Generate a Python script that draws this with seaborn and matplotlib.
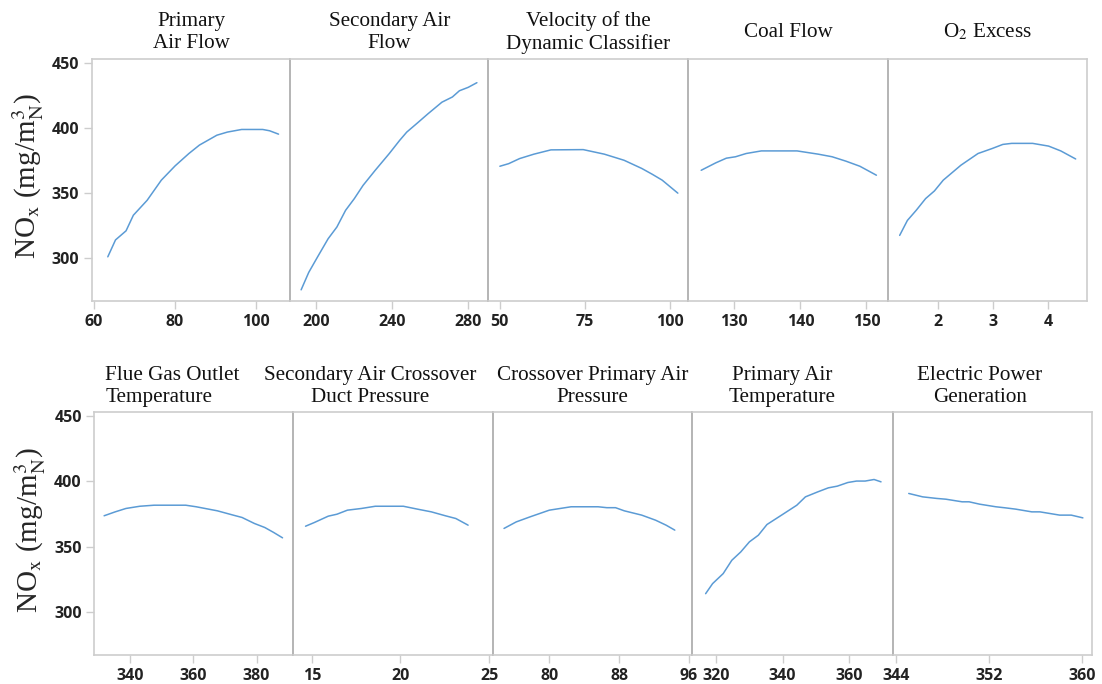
import numpy as np
import pandas as pd
import matplotlib.pyplot as plt
import seaborn as sns

# response curves of NOx vs each input
paf_x = [63.4, 65.3, 67.9, 69.7, 73.1, 76.6, 80.0, 83.4, 86.0, 90.3, 92.9, 96.4, 101.6, 103.3, 105.5]
paf_y = [301, 314, 321, 333, 344.5, 360, 371, 380.5, 387, 394.6, 397, 399, 399, 398, 395.4]

saf_x = [192.3, 196.3, 200.9, 206.5, 211.1, 215.7, 220.3, 224.9, 231.3, 238.7, 244.2, 247.9, 253.5, 259.0, 266.4, 271.9, 275.6, 280.2, 284.8]
saf_y = [275.6, 289, 300.8, 314.9, 323.9, 336.8, 345.8, 356, 367.6, 380.5, 390.7, 397, 404, 411, 420, 424, 428.8, 431.4, 435]

vdc_x = [50.0, 52.6, 55.8, 60.0, 65.0, 74.5, 80.7, 86.5, 91.7, 94.8, 97.7, 102.3]
vdc_y = [370.7, 372.7, 376.6, 380, 383.3, 383.5, 380, 375.3, 369, 364.5, 360, 350]

coal_x = [125.0, 127.2, 128.8, 130.2, 131.8, 134.1, 139.5, 142.7, 144.8, 146.9, 149.0, 151.5]
coal_y = [367.6, 373.3, 376.9, 378, 380.5, 382.5, 382.5, 380, 378, 374.6, 370.7, 363.8]

o2_x = [1.31, 1.45, 1.61, 1.78, 1.94, 2.10, 2.42, 2.73, 2.99, 3.18, 3.34, 3.72, 4.01, 4.23, 4.50]
o2_y = [317.5, 329, 336.8, 345.8, 351.7, 360, 371.5, 380.5, 384.4, 387.5, 388.3, 388.3, 386.2, 382.5, 376.3]

fgt_x = [331.8, 335.3, 338.7, 343.1, 347.6, 357.6, 360.9, 367.6, 372.6, 375.4, 379.3, 382.6, 385.4, 388.2]
fgt_y = [373.7, 376.7, 379.3, 381, 381.8, 381.8, 380.6, 377.5, 374.2, 372.4, 367.8, 364.7, 360.9, 356.8]

sadp_x = [14.65, 15.14, 15.93, 16.42, 17.01, 17.80, 18.58, 20.16, 20.95, 21.74, 22.53, 23.12, 23.81]
sadp_y = [365.7, 368.5, 373.4, 374.9, 378, 379.3, 381, 381, 378.8, 376.7, 373.7, 371.6, 366.5]

cpap_x = [74.8, 76.2, 77.8, 80.0, 82.5, 85.6, 86.6, 87.6, 88.6, 90.6, 92.2, 93.4, 94.4]
cpap_y = [364, 369, 372.9, 378, 380.6, 380.6, 379.9, 379.9, 377.5, 374.2, 370.3, 366.5, 362.7]

pat_x = [316.8, 318.9, 322.1, 324.7, 327.4, 330.0, 332.7, 335.3, 340.0, 344.3, 346.9, 350.6, 353.8, 356.5, 359.7, 362.3, 364.9, 367.6, 369.7]
pat_y = [314, 321.7, 329.4, 339.6, 346, 353.7, 358.8, 367, 374.7, 381.8, 388.2, 392, 395.1, 396.4, 399.2, 400.3, 400.3, 401.5, 399.7]

epg_x = [345.1, 346.3, 347.5, 348.3, 349.7, 350.3, 351.2, 352.6, 353.4, 354.3, 355.7, 356.4, 358.1, 359.1, 360.1]
epg_y = [390.8, 388.2, 387, 386.4, 384.4, 384.4, 382.6, 380.6, 379.8, 378.8, 376.7, 376.7, 374.2, 374.2, 372.1]

titles_top = ['Primary\nAir Flow', 'Secondary Air\nFlow', 'Velocity of the\nDynamic Classifier',
              'Coal Flow', r'O$_2$ Excess']
titles_bot = ['Flue Gas Outlet\nTemperature', 'Secondary Air Crossover\nDuct Pressure',
              'Crossover Primary Air\nPressure', 'Primary Air\nTemperature', 'Electric Power\nGeneration']

ticks_top = [[60, 80, 100], [200, 240, 280], [50, 75, 100], [130, 140, 150], [2, 3, 4]]
ticks_bot = [[340, 360, 380], [15, 20, 25], [80, 88, 96], [320, 340, 360], [344, 352, 360]]
yticks = [300, 350, 400, 450]

curves_top = [(paf_x, paf_y), (saf_x, saf_y), (vdc_x, vdc_y), (coal_x, coal_y), (o2_x, o2_y)]
curves_bot = [(fgt_x, fgt_y), (sadp_x, sadp_y), (cpap_x, cpap_y), (pat_x, pat_y), (epg_x, epg_y)]

# layout (pixels of a 1102x684 figure)
W, H = 1102, 684
edges_top = [91.7, 290.3, 488.3, 687.7, 888.3, 1086.7]
edges_bot = [94.3, 293.3, 493.3, 691.7, 893.3, 1091.7]
row_top = (59.3, 301)
row_bot = (412.3, 655)
xlims_top = [(59.43, 108.4), (186.6, 290.8), (46.6, 105.2), (122.96, 153.3), (1.104, 4.70)]
xlims_bot = [(328.7, 391.6), (13.96, 25.23), (73.57, 96.34), (312.6, 373.4), (343.77, 360.86)]
title_pos_bot = [0.055, 0.385, 0.5, 0.448, 0.437]

sns.set_theme(style='white')
plt.rcParams['font.family'] = ['Liberation Serif', 'DejaVu Serif']
plt.rcParams['mathtext.fontset'] = 'stix'

fig = plt.figure(figsize=(W / 100, H / 100), dpi=100)

line_color = '#5b9bd5'
frame = '#cdcdcd'
divider = '#a8a8a8'
tickfont = dict(family='Open Sans', weight='bold', size=11.5)


def draw_row(edges, rows, curves, titles, ticks, xlims, tpos, toff):
    axes = []
    top, bot = rows
    for i in range(5):
        ax = fig.add_axes([edges[i] / W, 1 - bot / H, (edges[i + 1] - edges[i]) / W, (bot - top) / H])
        df = pd.DataFrame({'x': curves[i][0], 'y': curves[i][1]})
        sns.lineplot(data=df, x='x', y='y', ax=ax, color=line_color, lw=1.1)
        ax.set_xlim(*xlims[i])
        ax.set_ylim(267, 453)
        ax.set_xlabel('')
        ax.set_ylabel('')
        ax.set_xticks(ticks[i])
        ax.set_xticklabels([str(t) for t in ticks[i]], fontdict=tickfont, color='#222222')
        ax.tick_params(axis='x', bottom=True, length=6, width=1, color=frame, pad=3)
        for s in ax.spines.values():
            s.set_color(frame)
            s.set_linewidth(1.2)
        if i == 0:
            ax.set_yticks(yticks)
            ax.set_yticklabels([str(t) for t in yticks], fontdict=tickfont, color='#222222')
            ax.tick_params(axis='y', left=True, length=6, width=1, color=frame, pad=3)
        else:
            ax.set_yticks([])
            ax.spines['left'].set_color(divider)
        if i < 4:
            ax.spines['right'].set_visible(False)
        x = tpos[i]
        ha = 'left' if x < 0.1 else 'center'
        ax.annotate(titles[i], xy=(x, 1), xycoords='axes fraction', xytext=(0, toff),
                    textcoords='offset points', ha=ha, va='center', ma=ha,
                    fontsize=15.2, color='#111111')
        axes.append(ax)
    return axes


ax_top = draw_row(edges_top, row_top, curves_top, titles_top, ticks_top, xlims_top,
                  [0.5] * 5, 19.5)
ax_bot = draw_row(edges_bot, row_bot, curves_bot, titles_bot, ticks_bot, xlims_bot,
                  title_pos_bot, 18.5)

ylab = r'NO$_\mathrm{x}$ (mg/m$_\mathrm{N}^3$)'
fig.text(28 / W, 1 - 176 / H, ylab, rotation=90, ha='center', va='center', fontsize=21)
fig.text(30 / W, 1 - 530 / H, ylab, rotation=90, ha='center', va='center', fontsize=21)

fig.savefig('out.png', dpi=100)
